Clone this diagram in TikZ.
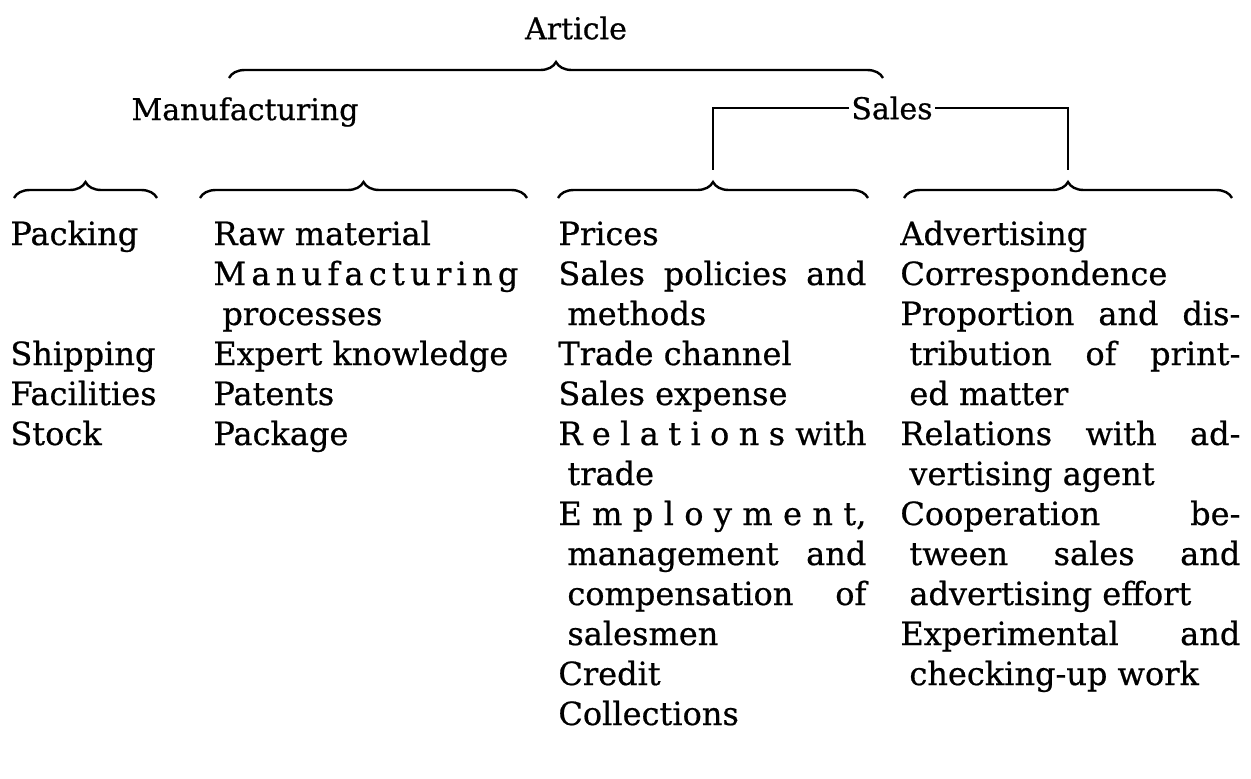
\documentclass[tikz,border=0pt]{standalone}
\usepackage{fontspec}
\setmainfont[FakeBold=0.6]{DejaVu Serif}
\usetikzlibrary{decorations.pathreplacing}
\tolerance=10000
\hbadness=10000
\tikzset{
	heading/.style={font=\fontsize{15}{20}\selectfont, inner sep=1pt},
	column/.style={font=\fontsize{16}{20}\selectfont, anchor=base west, inner sep=0pt, align=justify},
	curly/.style={decorate, decoration={brace, amplitude=8pt}, line width=1.2pt},
}
\newcommand\entry{\par\hangindent=4.5pt\hangafter=1\relax}
\begin{document}
\begin{tikzpicture}[x=0.5pt, y=-0.5pt]
			\useasboundingbox (0,0) rectangle (1251,778);
			\node[heading] (article) at (576,28) {Article};
			\draw[curly] (229,78) -- (883,78);
			\node[heading] (manufacturing) at (245,112) {Manufacturing};
			\node[heading] (sales) at (892,108) {Sales};
			\coordinate (salesl) at (713,170);
			\coordinate (salesr) at (1068,170);
			\draw[line width=0.8pt] (sales.west) -| (salesl);
			\draw[line width=0.8pt] (sales.east) -| (salesr);
			\draw[curly] (14,198) -- (157,198);
			\draw[curly] (200,198) -- (527,198);
			\draw[curly] (558,198) -- (868,198);
			\draw[curly] (904,198) -- (1232,198);
			\node[column, text width=80pt, align=left] (packing) at (10,245) {Packing\\[40pt]Shipping\\Facilities\\Stock};
			\node[column, text width=152.5pt] (production) at (213,245) {Raw material
				\entry M\hfil a\hfil n\hfil u\hfil f\hfil a\hfil c\hfil t\hfil u\hfil r\hfil i\hfil n\hfil g\linebreak processes
				\entry Expert knowledge
				\entry Patents
				\entry Package\par};
			\node[column, text width=154pt] (selling) at (558,245) {Prices
				\entry Sales policies and\linebreak methods
				\entry Trade channel
				\entry Sales expense
				\entry R\hfil e\hfil l\hfil a\hfil t\hfil i\hfil o\hfil n\hfil s with\linebreak trade
				\entry E\hfil m\hfil p\hfil l\hfil o\hfil y\hfil m\hfil e\hfil n\hfil t,\linebreak management and\linebreak compensation of\linebreak salesmen
				\entry Credit
				\entry Collections\par};
			\node[column, text width=170pt] (advertising) at (900,245) {Advertising
				\entry Correspondence
				\entry Proportion and dis-\linebreak tribution of print-\linebreak ed matter
				\entry Relations with ad-\linebreak vertising agent
				\entry Cooperation be-\linebreak tween sales and\linebreak advertising effort
				\entry Experimental and\linebreak checking-up work\par};
\end{tikzpicture}
\end{document}
